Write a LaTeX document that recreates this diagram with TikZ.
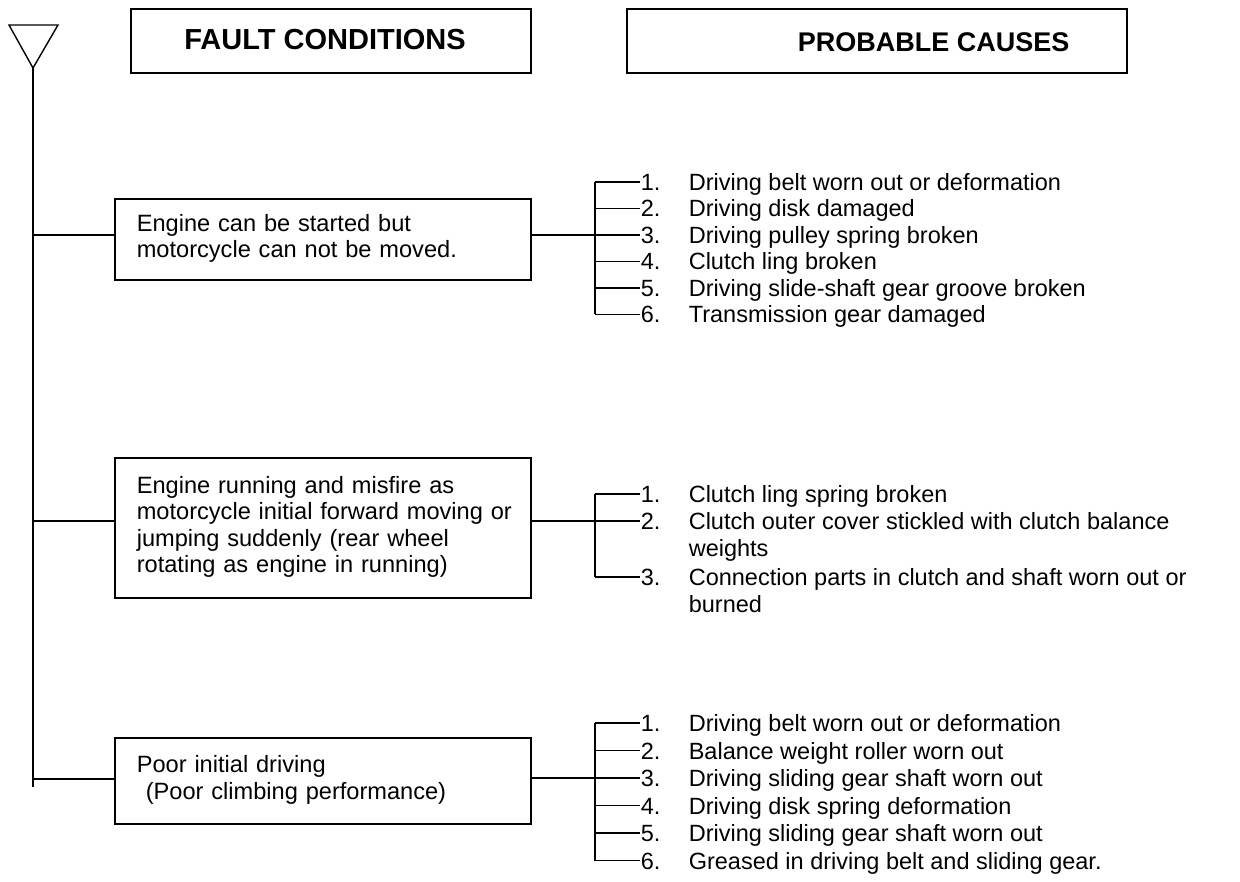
\documentclass[tikz,border=0pt]{standalone}
\usepackage{fontspec}
\setmainfont{Liberation Sans}
% numbered cause entry: number column, then the text (continuation lines start with "&")
\newcommand{\causeitem}[2]{\begin{tabular}[t]{@{}p{48pt}@{}l@{}}#1&#2\end{tabular}}
% fixed line breaks inside a fault box
\newcommand{\boxlines}[1]{\begin{tabular}{@{}l@{}}#1\end{tabular}}
\begin{document}
\begin{tikzpicture}[x=1pt,y=-1pt,
  line width=1.6pt,
  hdrbox/.style={draw, line width=1.6pt, inner sep=0pt, anchor=north west},
  hdrtext/.style={font=\fontsize{29}{32}\selectfont\bfseries, inner sep=0pt},
  faultbox/.style={draw, line width=1.6pt, anchor=north west, minimum width=416pt,
    text width=372pt, align=left, inner xsep=22pt, inner ysep=0pt,
    font=\fontsize{23.6}{26.5}\selectfont},
  causetext/.style={anchor=base west, inner sep=0pt,
    font=\fontsize{23.5}{27.3}\selectfont},
  wire/.style={line width=1.6pt}
]
\useasboundingbox (0,0) rectangle (1240,882);

% funnel symbol at the head of the spine
\draw[line width=1.4pt] (9,25) -- (58,25) -- (33,68) -- cycle;
\coordinate (tip) at (33,68);
\coordinate (spineend) at (33,787);

% column headings
\node[hdrbox, minimum width=400pt, minimum height=64pt] (fc) at (130,8) {};
\node[hdrtext, anchor=base] (fctext) at (325,50) {FAULT CONDITIONS};
\node[hdrbox, minimum width=500pt, minimum height=64pt] (pc) at (626,8) {};
\node[hdrtext, font=\fontsize{27}{30}\selectfont\bfseries, anchor=base west] (pctext) at (797,52) {PROBABLE CAUSES};

% fault conditions
\node[faultbox, minimum height=81pt] (f1) at (114,198)
  {\boxlines{Engine can be started but\\motorcycle can not be moved.}};
\node[faultbox, minimum height=140pt] (f2) at (114,457)
  {\boxlines{Engine running and misfire as\\motorcycle initial forward moving or\\jumping suddenly (rear wheel\\rotating as engine in running)}};
\node[faultbox, minimum height=86pt] (f3) at (114,737)
  {\boxlines{Poor initial driving\\\hspace*{9pt}(Poor climbing performance)}};

% spine
\draw[wire] (tip) -- (spineend);
\coordinate (s1) at (33,235);
\coordinate (s2) at (33,521);
\coordinate (s3) at (33,779);
\draw[wire] (s1) -- (f1.west |- s1);
\draw[wire] (s2) -- (f2.west |- s2);
\draw[wire] (s3) -- (f3.west |- s3);

% bracket 1
\foreach \i/\y in {1/182,2/208.5,3/235,4/261.5,5/288,6/314.5}
  \coordinate (a\i) at (595,\y);
\node[causetext] (c11) at (640,190.5) {\causeitem{1.}{Driving belt worn out or deformation}};
\node[causetext] (c12) at (640,217)   {\causeitem{2.}{Driving disk damaged}};
\node[causetext] (c13) at (640,243.5) {\causeitem{3.}{Driving pulley spring broken}};
\node[causetext] (c14) at (640,270)   {\causeitem{4.}{Clutch ling broken}};
\node[causetext] (c15) at (640,296.5) {\causeitem{5.}{Driving slide-shaft gear groove broken}};
\node[causetext] (c16) at (640,323)   {\causeitem{6.}{Transmission gear damaged}};
\draw[wire] (a1) -- (a6);
\draw[wire] (f1.east |- a3) -- (a3);
\foreach \i in {1,...,6}
  \draw[wire] (a\i) -- (c1\i.west |- a\i);

% bracket 2
\coordinate (b1) at (595,494);
\coordinate (b2) at (595,521);
\coordinate (b3) at (595,577);
\node[causetext] (c21) at (640,502.5) {\causeitem{1.}{Clutch ling spring broken}};
\node[causetext] (c22) at (640,529.5) {\causeitem{2.}{Clutch outer cover stickled with clutch balance\\ & weights}};
\node[causetext] (c23) at (640,585.5) {\causeitem{3.}{Connection parts in clutch and shaft worn out or\\ & burned}};
\draw[wire] (b1) -- (b3);
\draw[wire] (f2.east |- b2) -- (b2);
\foreach \i in {1,2,3}
  \draw[wire] (b\i) -- (c2\i.west |- b\i);

% bracket 3
\foreach \i/\y in {1/723,2/750.5,3/778,4/805.5,5/833,6/860.5}
  \coordinate (d\i) at (595,\y);
\node[causetext] (c31) at (640,731.5) {\causeitem{1.}{Driving belt worn out or deformation}};
\node[causetext] (c32) at (640,759)   {\causeitem{2.}{Balance weight roller worn out}};
\node[causetext] (c33) at (640,786.5) {\causeitem{3.}{Driving sliding gear shaft worn out}};
\node[causetext] (c34) at (640,814)   {\causeitem{4.}{Driving disk spring deformation}};
\node[causetext] (c35) at (640,841.5) {\causeitem{5.}{Driving sliding gear shaft worn out}};
\node[causetext] (c36) at (640,869)   {\causeitem{6.}{Greased in driving belt and sliding gear.}};
\draw[wire] (d1) -- (d6);
\draw[wire] (f3.east |- d3) -- (d3);
\foreach \i in {1,...,6}
  \draw[wire] (d\i) -- (c3\i.west |- d\i);
\end{tikzpicture}
\end{document}
